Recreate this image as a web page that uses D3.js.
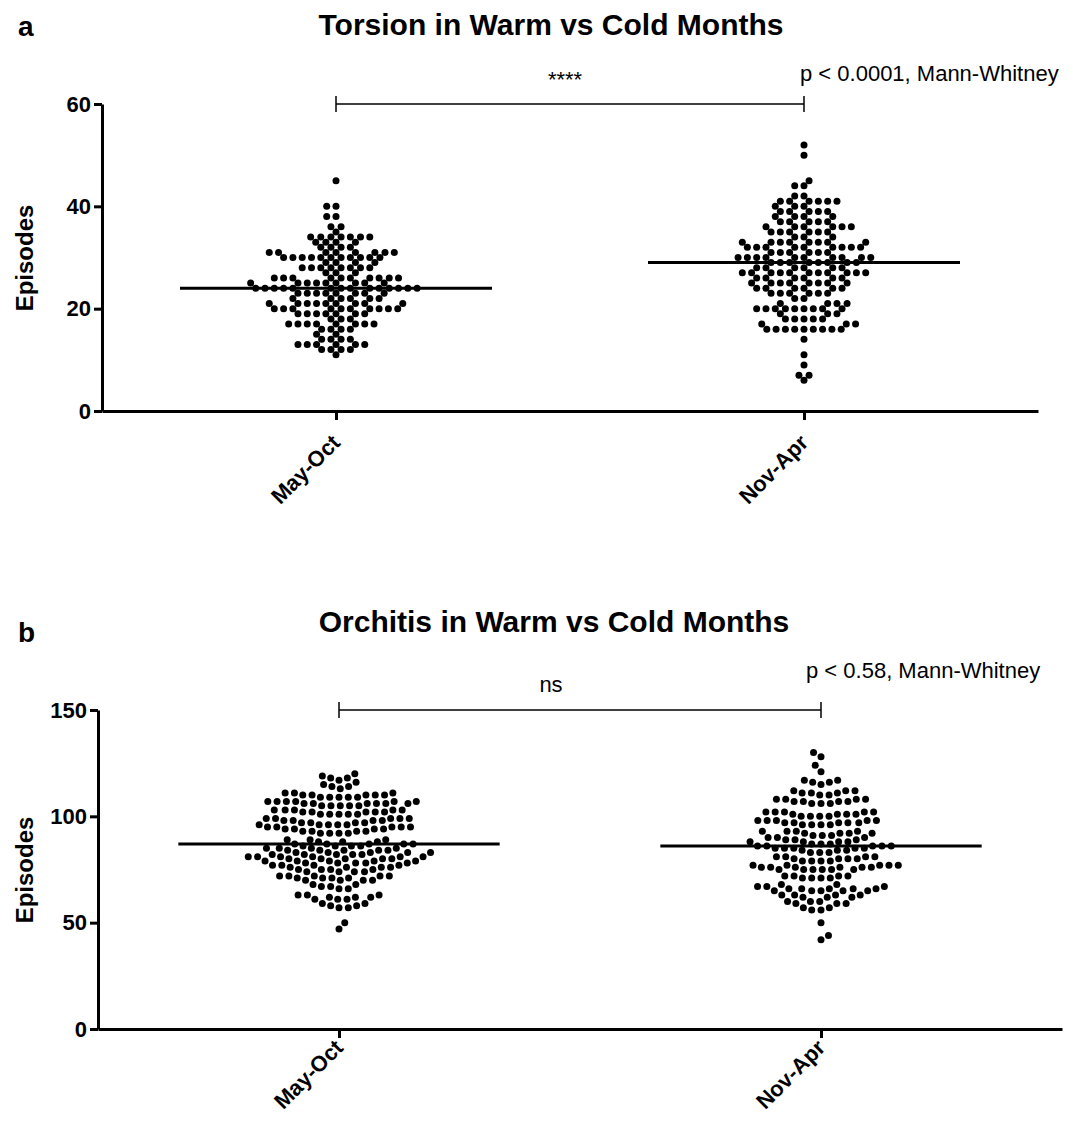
<!DOCTYPE html>
<html>
<head>
<meta charset="utf-8">
<script src="https://cdn.jsdelivr.net/npm/d3@7"></script>
<style>
  body { margin: 0; background: #fff; }
  text { font-family: "Liberation Sans", Arial, sans-serif; fill: #000; }
</style>
</head>
<body>
<div id="chart"></div>
<script>
// categories
var groups = ["May-Oct", "Nov-Apr"];

// monthly episode counts, as [value, number of months with that value]
var torsionWarm = [
  [45,1],[40,2],[38,2],[36,2],[35,1],[34,7],[33,4],[32,4],[31,8],[30,11],
  [29,4],[28,8],[27,3],[26,10],[25,9],[24,14],[23,8],[22,6],[21,9],[20,10],
  [19,7],[18,3],[17,8],[16,4],[15,2],[14,4],[13,6],[12,4],[11,1]
];
var torsionCold = [
  [52,1],[50,1],[45,1],[44,2],[42,2],[41,6],[40,3],[39,5],[38,4],[37,5],
  [36,6],[35,6],[34,3],[33,8],[32,9],[31,6],[30,10],[29,8],[28,6],[27,11],
  [26,6],[25,8],[24,6],[23,6],[22,2],[21,4],[20,9],[19,3],[18,5],[17,3],
  [16,9],[14,1],[11,1],[9,1],[7,2],[6,1]
];
var orchitisWarm = [
  [120,1],[119,1],[118,2],[117,1],[116,1],[115,1],[114,2],[113,1],
  [111,3],[110,5],[109,5],[107,6],[106,6],[105,5],[103,5],[102,5],[101,5],
  [99,5],[98,4],[97,4],[96,5],[95,5],[94,4],[93,4],[92,4],[89,3],[88,3],
  [87,5],[86,4],[85,4],[84,5],[83,5],[82,5],[81,6],[80,5],[79,5],[78,5],[77,4],
  [76,4],[75,4],[74,4],[72,5],[71,4],[70,4],[68,2],[67,2],[66,2],
  [63,3],[62,3],[61,3],[59,2],[58,2],[57,2],[50,1],[47,1]
];
var orchitisCold = [
  [130,1],[128,1],[124,1],[121,1],[117,2],[116,2],[115,1],
  [112,3],[111,3],[110,2],[108,4],[107,4],[106,3],[102,5],[101,4],[100,4],
  [98,5],[97,5],[96,4],[93,4],[92,4],[91,3],[90,3],[89,3],[88,4],[87,3],
  [86,5],[85,5],[84,3],[83,3],[81,4],[80,4],[79,4],[77,5],[76,6],[75,6],
  [72,4],[71,4],[68,2],[67,3],[66,5],[65,5],[63,4],[62,3],[60,3],[59,3],
  [57,2],[56,2],[50,1],[44,1],[42,1]
];

var torsionTicks  = [0, 20, 40, 60];
var orchitisTicks = [0, 50, 100, 150];

var svg = d3.select("#chart")
  .append("svg")
    .attr("width", 1073)
    .attr("height", 1128);

function expand(tbl) {
  return tbl.flatMap(d => d3.range(d[1]).map(() => d[0]));
}

// greedy beeswarm: each dot goes to the free spot nearest the centre
function swarm(vals, y, minDist, rowGap) {
  var pts = vals.slice().sort(d3.ascending).map(v => ({ v: v, y: y(v), x: 0 }));
  var placed = [];
  function need(dy) {
    return dy < 0.01 ? rowGap : Math.sqrt(Math.max(0, minDist * minDist - dy * dy));
  }
  pts.forEach((p, i) => {
    var near = placed.filter(q => Math.abs(q.y - p.y) < Math.max(minDist, rowGap));
    var cand = [0];
    near.forEach(q => {
      var n = need(Math.abs(q.y - p.y));
      cand.push(q.x + n, q.x - n);
    });
    var side = i % 2 ? 1 : -1;
    cand.sort((a, b) => Math.round((Math.abs(a) - Math.abs(b)) * 1000) || side * (b - a));
    p.x = cand.find(c => near.every(q => Math.abs(c - q.x) >= need(Math.abs(q.y - p.y)) - 1e-6));
    placed.push(p);
  });
  return pts;
}

function panel(o) {
  var g = svg.append("g");

  var x = d3.scalePoint().domain(groups).range([o.x0, o.x1]).padding(0.5);
  var y = d3.scaleLinear().domain([0, o.max]).range([o.y0, o.y1]);

  // y axis
  var ya = g.append("g")
    .attr("transform", "translate(" + o.x0 + ",0)")
    .call(d3.axisLeft(y).tickValues(o.ticks).tickSize(8).tickSizeOuter(0).tickPadding(3));
  ya.selectAll("text")
    .style("font-size", "22px")
    .style("font-weight", "bold")
    .style("font-family", "'Liberation Sans', Arial, sans-serif");

  // x axis
  var xa = g.append("g")
    .attr("transform", "translate(0," + o.y0 + ")")
    .call(d3.axisBottom(x).tickSize(9).tickSizeOuter(0));
  xa.selectAll("text")
    .attr("x", 0)
    .attr("y", 0)
    .attr("dy", null)
    .attr("text-anchor", "end")
    .attr("transform", "translate(5," + o.labelDy + ") rotate(-45)")
    .style("font-size", "22px")
    .style("font-weight", "bold")
    .style("font-family", "'Liberation Sans', Arial, sans-serif");

  g.selectAll(".domain, .tick line")
    .attr("stroke", "#000")
    .attr("stroke-width", 3);

  // dots
  var step = x.step();
  o.series.forEach((tbl, k) => {
    var cx = x(groups[k]);
    var pts = swarm(expand(tbl), y, o.minDist, 9.3);
    g.append("g")
      .selectAll("circle")
      .data(pts)
      .enter()
      .append("circle")
        .attr("cx", d => cx + d.x)
        .attr("cy", d => d.y)
        .attr("r", 3.5)
        .attr("fill", "#000");

    var med = d3.median(expand(tbl));
    g.append("line")
      .attr("x1", cx - step / 3)
      .attr("x2", cx + step / 3)
      .attr("y1", y(med))
      .attr("y2", y(med))
      .attr("stroke", "#000")
      .attr("stroke-width", 3);
  });

  // significance bracket
  var by = y(o.max);
  var bx0 = x(groups[0]), bx1 = x(groups[1]);
  g.append("line")
    .attr("x1", bx0).attr("x2", bx1)
    .attr("y1", by).attr("y2", by)
    .attr("stroke", "#000").attr("stroke-width", 1.5);
  [bx0, bx1].forEach(bx => {
    g.append("line")
      .attr("x1", bx).attr("x2", bx)
      .attr("y1", by - 8).attr("y2", by + 8)
      .attr("stroke", "#000").attr("stroke-width", 1.5);
  });

  g.append("text")
    .attr("x", o.sigX).attr("y", o.sigY)
    .attr("text-anchor", "middle")
    .style("font-size", "22px")
    .text(o.sig);

  g.append("text")
    .attr("x", o.pX).attr("y", o.pY)
    .style("font-size", "22px")
    .text(o.pText);

  // titles
  g.append("text")
    .attr("x", o.titleX).attr("y", o.titleY)
    .attr("text-anchor", "middle")
    .style("font-size", "30px")
    .style("font-weight", "bold")
    .text(o.title);

  g.append("text")
    .attr("x", 18).attr("y", o.letterY)
    .style("font-size", "28px")
    .style("font-weight", "bold")
    .text(o.letter);

  g.append("text")
    .attr("transform", "translate(33," + o.ylabY + ") rotate(-90)")
    .attr("text-anchor", "middle")
    .style("font-size", "24px")
    .style("font-weight", "bold")
    .text("Episodes");
}

panel({
  series: [torsionWarm, torsionCold], ticks: torsionTicks, max: 60,
  x0: 102, x1: 1038, y0: 411, y1: 104, labelDy: 33, minDist: 7.2,
  sig: "****", sigX: 565, sigY: 87,
  pText: "p < 0.0001, Mann-Whitney", pX: 800, pY: 81,
  title: "Torsion in Warm vs Cold Months", titleX: 551, titleY: 35,
  letter: "a", letterY: 36, ylabY: 258
});

panel({
  series: [orchitisWarm, orchitisCold], ticks: orchitisTicks, max: 150,
  x0: 98, x1: 1062, y0: 1029, y1: 710, labelDy: 20, minDist: 8.6,
  sig: "ns", sigX: 551, sigY: 692,
  pText: "p < 0.58, Mann-Whitney", pX: 806, pY: 678,
  title: "Orchitis in Warm vs Cold Months", titleX: 554, titleY: 632,
  letter: "b", letterY: 642, ylabY: 870
});
</script>
</body>
</html>
